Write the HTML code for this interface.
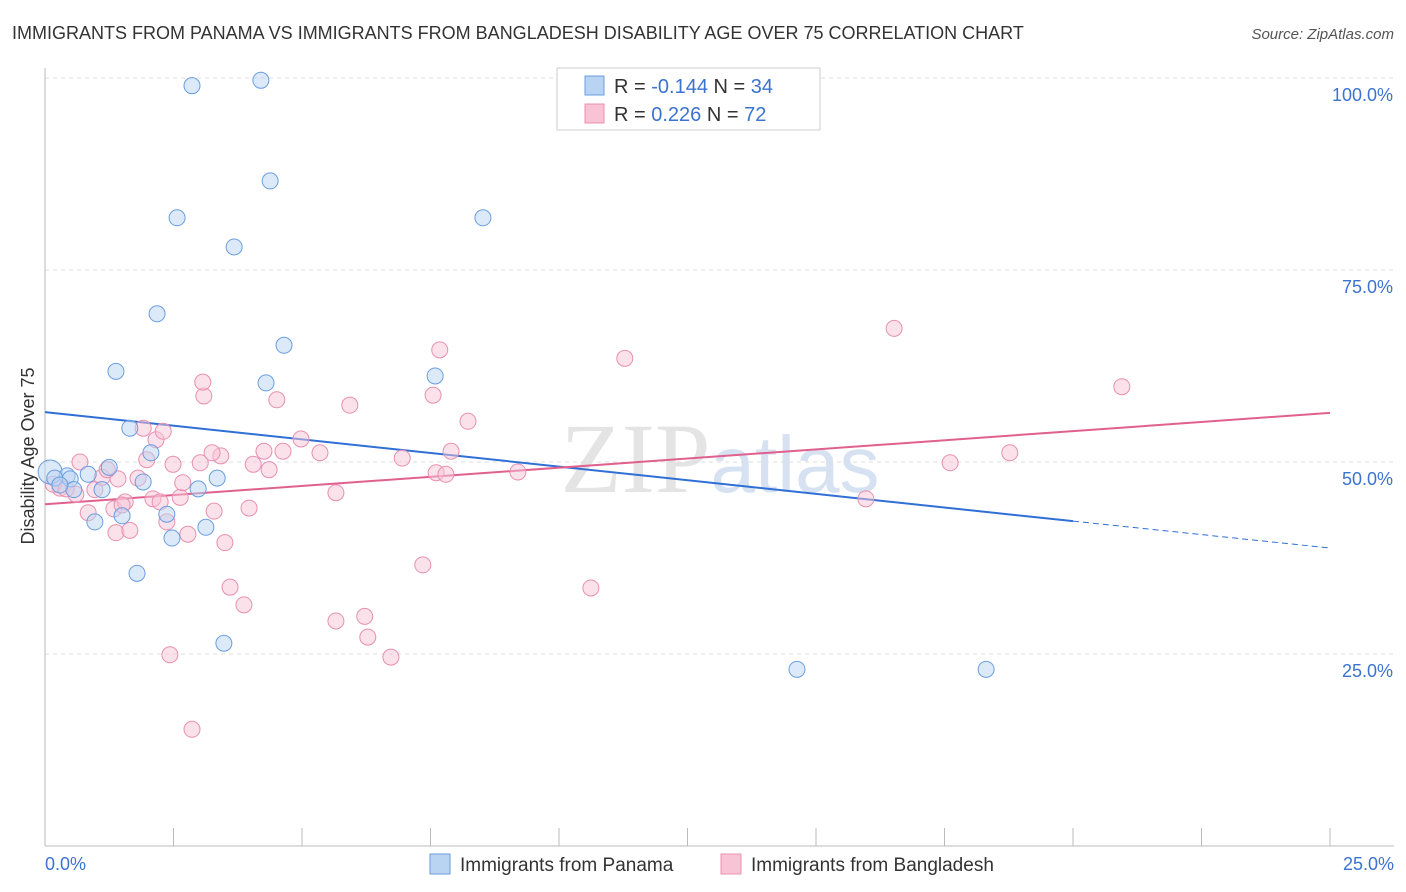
<!DOCTYPE html>
<html><head><meta charset="utf-8"><style>
body{margin:0;background:#fff;font-family:"Liberation Sans",sans-serif;}
svg{display:block}
</style></head><body>
<svg id="chart" width="1406" height="892">
<text x="12" y="39" font-size="18" fill="#333">IMMIGRANTS FROM PANAMA VS IMMIGRANTS FROM BANGLADESH DISABILITY AGE OVER 75 CORRELATION CHART</text>
<text x="1394" y="39" font-size="15" fill="#555" font-style="italic" text-anchor="end">Source: ZipAtlas.com</text>
<text x="720" y="492" font-size="100" fill="#e4e4e4" text-anchor="middle" font-family="Liberation Serif,serif">ZIP<tspan fill="#d6e2f2" font-family="Liberation Sans,sans-serif" font-size="80">atlas</tspan></text>
<g id="grid"></g><g id="axes"></g><g id="trends"></g><g id="points"></g>
<text transform="translate(34,456) rotate(-90)" font-size="18" fill="#333" text-anchor="middle">Disability Age Over 75</text>
<g>
<rect x="557" y="68" width="263" height="62" fill="#fff" stroke="#ccc"/>
<rect x="585" y="76" width="19" height="19" fill="#b9d3f3" stroke="#6a9ee0"/>
<rect x="585" y="104" width="19" height="19" fill="#f8c3d5" stroke="#e890b0"/>
<text x="614" y="93" font-size="20" fill="#333">R = <tspan fill="#3b73d1">-0.144</tspan>   N = <tspan fill="#3b73d1">34</tspan></text>
<text x="614" y="121" font-size="20" fill="#333">R =  <tspan fill="#3b73d1"> 0.226</tspan>   N = <tspan fill="#3b73d1">72</tspan></text>
</g>
<g>
<rect x="430" y="854" width="20" height="20" fill="#b9d3f3" stroke="#6a9ee0"/>
<text x="460" y="871" font-size="19" fill="#333">Immigrants from Panama</text>
<rect x="721" y="854" width="20" height="20" fill="#f8c3d5" stroke="#e890b0"/>
<text x="751" y="871" font-size="19" fill="#333">Immigrants from Bangladesh</text>
</g>
</svg>
<script>
const panamaX=[2.86,4.20,4.38,2.57,8.52,3.68,2.18,4.65,1.38,4.30,7.59,1.65,2.06,1.25,0.10,0.43,0.84,0.49,1.91,3.35,1.11,2.98,0.56,1.50,2.37,0.97,3.13,2.47,1.79,3.48,14.63,18.31,0.19,0.29];
const panamaY=[99.0,99.7,86.6,81.8,81.8,78.0,69.3,65.2,61.8,60.3,61.2,54.4,51.2,49.3,48.7,48.2,48.4,47.8,47.4,47.9,46.4,46.5,46.4,43.0,43.2,42.2,41.5,40.1,35.5,26.4,23.0,23.0,47.9,47.0];
const bangX=[2.86,2.43,6.73,6.28,5.66,6.22,3.87,3.60,10.62,7.35,3.50,1.38,1.65,2.78,2.37,0.84,1.34,3.97,3.29,1.56,1.50,2.10,2.63,2.24,5.66,15.97,0.60,0.29,0.97,2.68,1.81,1.42,1.11,0.16,0.41,4.36,4.05,3.02,2.49,1.98,0.68,1.21,7.61,7.80,9.20,17.61,6.95,5.35,3.42,3.25,4.26,4.63,7.90,18.77,2.16,4.98,2.30,1.91,8.23,5.93,4.51,3.09,7.55,3.07,20.95,7.68,11.28,16.52];
const bangY=[15.2,24.9,24.6,27.2,29.3,29.9,31.4,33.7,33.6,36.6,39.5,40.8,41.1,40.6,42.2,43.4,43.9,44.0,43.6,44.8,44.4,45.2,45.4,44.8,46.0,45.2,45.8,46.6,46.4,47.3,47.9,47.8,48.0,47.1,46.5,49.0,49.7,49.9,49.7,50.3,50.0,49.0,48.6,48.4,48.7,49.9,50.5,51.2,50.8,51.2,51.4,51.4,51.4,51.2,52.9,53.0,54.0,54.4,55.3,57.4,58.1,58.6,58.7,60.4,59.8,64.6,63.5,67.4];
const panamaTrend=[56.5,42.3,38.8]; // at x=0,20,25
const bangTrend=[44.5,56.4]; // at x=0,25
const yTicks=[25,50,75,100];
const yTickLabels=["25.0%","50.0%","75.0%","100.0%"];
const xTicks=[0,2.5,5,7.5,10,12.5,15,17.5,20,22.5,25];
const NS="http://www.w3.org/2000/svg";
const sx=v=>45+v/25*1285, sy=v=>846-v/100*768;
function mk(t,a,p){const e=document.createElementNS(NS,t);for(const k in a)e.setAttribute(k,a[k]);p.appendChild(e);return e;}
const grid=document.getElementById('grid'),axes=document.getElementById('axes'),tr=document.getElementById('trends'),pts=document.getElementById('points');
yTicks.forEach((v,i)=>{
 const l=mk('line',{x1:45,x2:1394,y1:sy(v),y2:sy(v),stroke:'#ddd','stroke-dasharray':'4,4'},grid);
 
 
 const t=mk('text',{x:1393,y:sy(v)+23,'font-size':18,fill:'#3b73d1','text-anchor':'end'},axes);
 t.textContent=yTickLabels[i];
 
 
});
const ax=mk('line',{x1:45,x2:45,y1:68,y2:846,stroke:'#bbb'},axes);


const bx=mk('line',{x1:45,x2:1394,y1:846,y2:846,stroke:'#bbb'},axes);


xTicks.forEach(v=>{
 const l=mk('line',{x1:sx(v),x2:sx(v),y1:828,y2:846,stroke:'#bbb'},axes);
 
 
});
const x0=mk('text',{x:45,y:870,'font-size':18,fill:'#3b73d1'},axes);x0.textContent='0.0%';


const x1=mk('text',{x:1394,y:870,'font-size':18,fill:'#3b73d1','text-anchor':'end'},axes);x1.textContent='25.0%';


function dot(x,y,r,fill,stroke,name){
 const c=mk('circle',{cx:sx(x),cy:sy(y),r:r,fill:fill,'fill-opacity':0.5,stroke:stroke,'stroke-width':1},pts);
 
 
}
bangX.forEach((x,i)=>dot(x,bangY[i],8,'#f8c3d5','#e890b0','bangladesh-point'));
panamaX.forEach((x,i)=>dot(x,panamaY[i],i==14?12:8,'#b9d3f3','#6a9ee0','panama-point'));
let l1=mk('line',{x1:sx(0),y1:sy(panamaTrend[0]),x2:sx(20),y2:sy(panamaTrend[1]),stroke:'#2f6fd6','stroke-width':2},tr);


let l2=mk('line',{x1:sx(20),y1:sy(panamaTrend[1]),x2:sx(25),y2:sy(panamaTrend[2]),stroke:'#2f6fd6','stroke-width':1,'stroke-dasharray':'6,4'},tr);


let l3=mk('line',{x1:sx(0),y1:sy(bangTrend[0]),x2:sx(25),y2:sy(bangTrend[1]),stroke:'#e0608e','stroke-width':2},tr);


</script>
</body></html>
